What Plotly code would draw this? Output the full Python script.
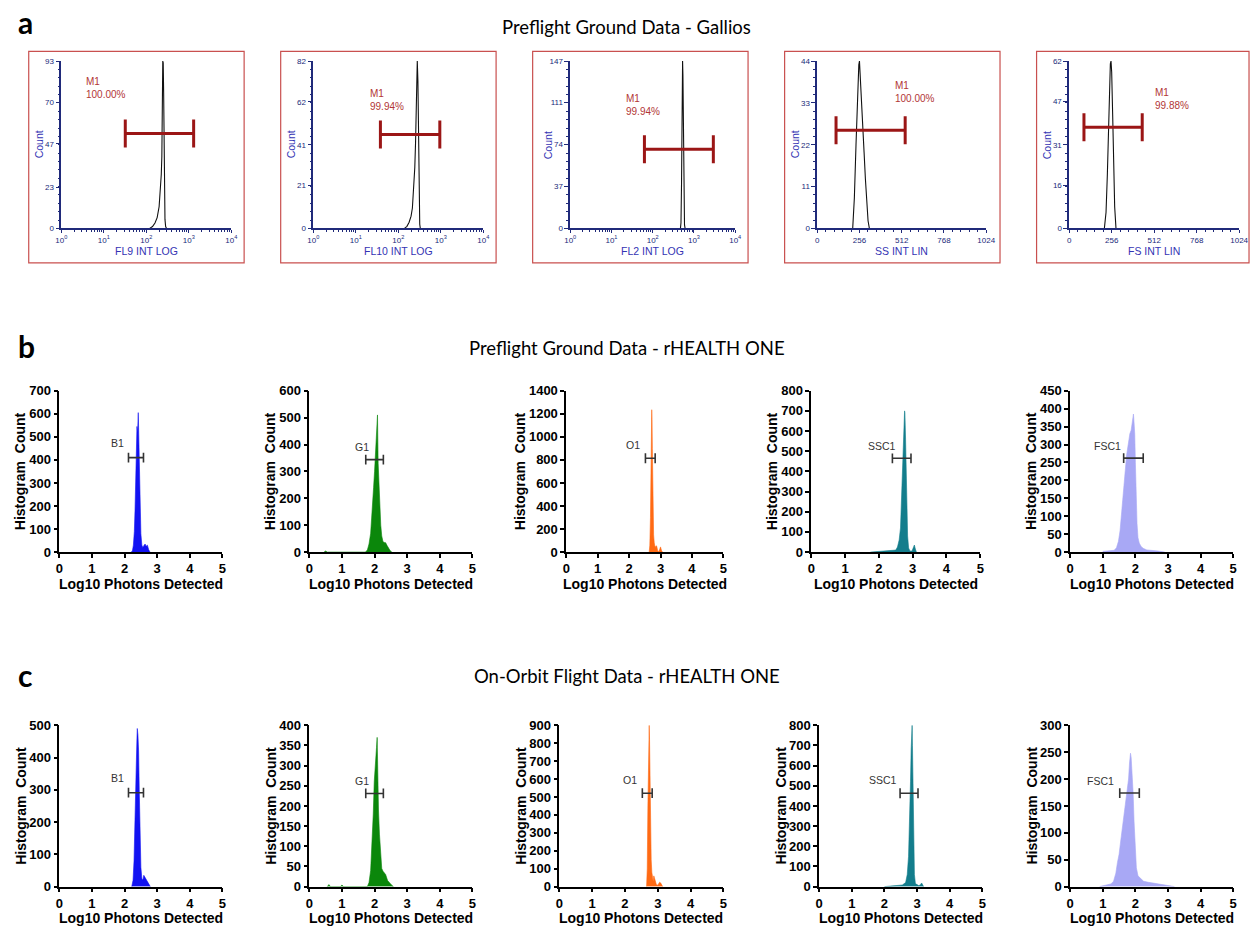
import math
import plotly.graph_objects as go

W, H = 1260, 933

# ================= DATA =================
# ---- Panel a : Gallios (black line histograms) ----
a_xtitles = ["FL9 INT LOG", "FL10 INT LOG", "FL2 INT LOG", "SS INT LIN", "FS INT LIN"]
a_is_log = [True, True, True, False, False]
a_ymax = [93, 82, 147, 44, 62]
a_yticks = [[0, 23, 47, 70, 93], [0, 21, 41, 62, 82], [0, 37, 74, 111, 147],
            [0, 11, 22, 33, 44], [0, 16, 31, 47, 62]]
log_tickvals = [1, 10, 100, 1000, 10000]
log_ticktext = ["10<sup>0</sup>", "10<sup>1</sup>", "10<sup>2</sup>", "10<sup>3</sup>", "10<sup>4</sup>"]
lin_tickvals = [0, 256, 512, 768, 1024]

a1_x = [120, 140, 160, 180, 200, 215, 225, 232, 238, 244, 250, 256, 262, 268, 275, 285, 300]
a1_y = [0, 1, 3, 6, 12, 22, 30, 40, 70, 93, 92, 75, 45, 20, 5, 1, 0]
a2_x = [140, 160, 180, 200, 215, 230, 245, 255, 265, 272, 280, 290, 300, 310, 320, 330]
a2_y = [0, 1, 3, 6, 10, 18, 30, 42, 60, 75, 82, 72, 45, 10, 2, 0]
a3_x = [470, 485, 500, 510, 520, 530, 540, 550, 560, 575, 590, 610]
a3_y = [0, 5, 40, 110, 140, 147, 135, 100, 60, 15, 3, 0]
a4_x = [215, 225, 235, 242, 248, 252, 256, 260, 268, 276, 284, 292, 300, 308, 316]
a4_y = [0, 8, 22, 32, 40, 43, 44, 41, 35, 28, 20, 13, 7, 2, 0]
a5_x = [212, 222, 230, 238, 244, 248, 252, 256, 262, 268, 274, 282]
a5_y = [0, 6, 20, 40, 55, 61, 62, 58, 42, 22, 8, 0]
a_hist_x = [a1_x, a2_x, a3_x, a4_x, a5_x]
a_hist_y = [a1_y, a2_y, a3_y, a4_y, a5_y]

a_gate_lo = [32, 38, 63, 114, 89]
a_gate_hi = [1300, 950, 2950, 533, 440]
a_gate_y = [52.8, 46, 69.6, 25.8, 37.5]
a_gate_pct = ["100.00%", "99.94%", "99.94%", "100.00%", "99.88%"]
a_label_x = [3.4, 19, 20, 460, 505]
a_label_y = [86, 70, 121, 39.5, 53]

# ---- Panels b / c : rHEALTH ONE (filled histograms, x = log10 photons) ----
gate_names = ["B1", "G1", "O1", "SSC1", "FSC1"]
channel_colors = ["#1212f2", "#0b870b", "#ff6a14", "#137d8c", "#a8a8f5"]

b_ymax = [700, 600, 1400, 800, 450]
b_dtick = [100, 100, 200, 100, 50]
c_ymax = [500, 400, 900, 800, 300]
c_dtick = [100, 50, 100, 100, 50]

b1_x = [2.20, 2.24, 2.27, 2.30, 2.32, 2.34, 2.36, 2.38, 2.40, 2.42, 2.43, 2.45, 2.47, 2.50, 2.53, 2.56, 2.60, 2.63, 2.66, 2.70, 2.74, 2.78]
b1_y = [0, 5, 30, 90, 180, 300, 450, 545, 520, 605, 540, 380, 200, 80, 30, 20, 30, 35, 25, 30, 10, 0]
b2_x = [0.45, 0.5, 0.55, 1.72, 1.78, 1.83, 1.88, 1.93, 1.97, 2.00, 2.03, 2.05, 2.07, 2.09, 2.11, 2.13, 2.16, 2.19, 2.22, 2.26, 2.30, 2.34, 2.38, 2.43, 2.48, 2.53]
b2_y = [0, 4, 0, 0, 8, 30, 70, 150, 240, 300, 370, 410, 440, 510, 330, 260, 170, 100, 60, 38, 36, 35, 25, 12, 5, 0]
b3_x = [2.64, 2.66, 2.68, 2.70, 2.71, 2.72, 2.73, 2.74, 2.75, 2.76, 2.78, 2.80, 2.83, 2.86, 2.88, 2.91, 2.94, 2.97, 3.00, 3.03, 3.06]
b3_y = [0, 60, 300, 800, 1100, 1235, 1150, 900, 600, 350, 150, 80, 40, 55, 50, 10, 5, 20, 45, 15, 0]
b4_x = [1.75, 2.0, 2.2, 2.40, 2.50, 2.55, 2.60, 2.64, 2.67, 2.70, 2.72, 2.74, 2.76, 2.77, 2.79, 2.81, 2.83, 2.85, 2.88, 2.92, 2.98, 3.02, 3.05, 3.08, 3.11]
b4_y = [0, 3, 4, 6, 10, 25, 60, 120, 250, 400, 520, 640, 700, 690, 560, 380, 200, 80, 20, 5, 5, 20, 35, 15, 0]
b5_x = [1.0, 1.2, 1.35, 1.42, 1.48, 1.53, 1.58, 1.63, 1.68, 1.73, 1.78, 1.83, 1.87, 1.91, 1.94, 1.96, 1.98, 2.00, 2.02, 2.05, 2.08, 2.12, 2.18, 2.25, 2.35, 2.5, 2.7, 2.9]
b5_y = [2, 3, 5, 12, 30, 60, 110, 170, 230, 270, 300, 330, 340, 360, 385, 360, 330, 250, 150, 80, 40, 25, 15, 10, 6, 5, 3, 0]

c1_x = [2.22, 2.26, 2.29, 2.32, 2.34, 2.36, 2.38, 2.39, 2.41, 2.43, 2.45, 2.47, 2.50, 2.53, 2.56, 2.59, 2.62, 2.65, 2.68, 2.72, 2.76, 2.79]
c1_y = [0, 20, 80, 180, 280, 380, 460, 490, 470, 420, 300, 160, 60, 25, 20, 35, 30, 22, 18, 12, 5, 0]
c2_x = [0.55, 0.6, 0.65, 0.95, 1.0, 1.05, 1.78, 1.83, 1.88, 1.92, 1.96, 1.99, 2.02, 2.04, 2.06, 2.08, 2.10, 2.12, 2.15, 2.18, 2.22, 2.26, 2.30, 2.34, 2.40, 2.46, 2.52, 2.58]
c2_y = [0, 5, 0, 0, 4, 0, 0, 10, 40, 100, 180, 260, 310, 340, 345, 370, 260, 190, 130, 80, 45, 38, 35, 30, 15, 8, 4, 0]
c3_x = [2.66, 2.68, 2.70, 2.72, 2.73, 2.74, 2.75, 2.76, 2.77, 2.78, 2.80, 2.82, 2.84, 2.86, 2.88, 2.90, 2.93, 2.96, 3.00, 3.03, 3.06, 3.09, 3.12, 3.15]
c3_y = [0, 100, 450, 800, 880, 900, 820, 650, 450, 300, 150, 80, 40, 30, 60, 45, 15, 10, 8, 15, 25, 20, 5, 0]
c4_x = [2.0, 2.2, 2.4, 2.55, 2.65, 2.70, 2.74, 2.77, 2.80, 2.82, 2.84, 2.85, 2.86, 2.88, 2.90, 2.92, 2.95, 3.0, 3.05, 3.10, 3.14, 3.17, 3.20]
c4_y = [0, 3, 5, 8, 20, 60, 150, 300, 520, 680, 790, 800, 700, 450, 200, 60, 15, 8, 5, 8, 18, 10, 0]
c5_x = [0.9, 1.1, 1.25, 1.33, 1.40, 1.45, 1.50, 1.55, 1.60, 1.65, 1.70, 1.75, 1.79, 1.82, 1.85, 1.87, 1.90, 1.93, 1.96, 1.99, 2.03, 2.08, 2.15, 2.25, 2.40, 2.6, 2.8, 3.0, 3.2]
c5_y = [0, 3, 5, 10, 25, 45, 60, 85, 110, 140, 160, 185, 200, 230, 248, 240, 215, 175, 120, 70, 35, 20, 15, 10, 8, 6, 5, 3, 0]

b_hist_x = [b1_x, b2_x, b3_x, b4_x, b5_x]
b_hist_y = [b1_y, b2_y, b3_y, b4_y, b5_y]
c_hist_x = [c1_x, c2_x, c3_x, c4_x, c5_x]
c_hist_y = [c1_y, c2_y, c3_y, c4_y, c5_y]

b_gate_lo = [2.12, 1.73, 2.52, 2.40, 1.64]
b_gate_hi = [2.58, 2.27, 2.83, 2.95, 2.24]
b_gate_y = [410, 344, 814, 465, 262]
b_label_x = [1.79, 1.61, 2.14, 2.10, 1.15]
b_label_y = [474, 391, 927, 528, 295]

c_gate_lo = [2.12, 1.73, 2.53, 2.48, 1.52]
c_gate_hi = [2.58, 2.27, 2.83, 3.03, 2.12]
c_gate_y = [291, 231, 521, 463, 174]
c_label_x = [1.79, 1.61, 2.14, 1.97, 0.94]
c_label_y = [337, 263, 593, 527, 196]

# ================= LAYOUT (pixel geometry) =================
def fx(p):
    return p / W

def fy(p):
    return 1 - p / H

NAVY = "#202a7a"
BLUE_T = "#3434b4"
FRAME = "#c9504f"
GATE_RED = "#9b1616"
LABEL_RED = "#b23636"

fig = go.Figure()
layout = dict(width=W, height=H, margin=dict(l=0, r=0, t=0, b=0),
              paper_bgcolor="white", plot_bgcolor="rgba(0,0,0,0)", showlegend=False)
annotations = []
shapes = []

def names(i):
    xs = "x" if i == 1 else f"x{i}"
    ys = "y" if i == 1 else f"y{i}"
    return xs, ys, "xaxis" + ("" if i == 1 else str(i)), "yaxis" + ("" if i == 1 else str(i))

# ---- Panel a ----
a_frame_left = [23, 278, 533, 788, 1043]
a_plot_left = [56, 311, 571, 821, 1076]
a_plot_right = [228, 483, 738, 992, 1248]
a_top, a_bot = 55, 225

idx = 0
for k in range(5):
    idx += 1
    xs, ys, xa, ya = names(idx)
    L, R = a_plot_left[k], a_plot_right[k]
    shapes.append(dict(type="rect", xref="paper", yref="paper",
                       x0=fx(a_frame_left[k]), x1=fx(min(a_frame_left[k] + 218, 1258)),
                       y0=fy(260), y1=fy(45), line=dict(color=FRAME, width=1.2)))
    common = dict(showgrid=False, zeroline=False, showline=True, linecolor=NAVY, linewidth=1.5,
                  ticks="outside", tickcolor=NAVY, tickwidth=1,
                  tickfont=dict(size=8, color=NAVY, family="Liberation Sans"))
    if a_is_log[k]:
        minor_vals = [m * 10 ** e for e in range(4) for m in range(2, 10)]
        xaxis = dict(type="log", range=[0, 4], tickvals=log_tickvals, ticktext=log_ticktext,
                     ticklen=3, minor=dict(tickvals=minor_vals, ticks="outside", ticklen=2, tickcolor=NAVY),
                     **common)
    else:
        xaxis = dict(range=[0, 1024], tickvals=lin_tickvals, ticklen=3,
                     minor=dict(dtick=51.2, tick0=0, ticks="outside", ticklen=2, tickcolor=NAVY),
                     **common)
    xaxis.update(domain=[fx(L), fx(R)], anchor=ys)
    yaxis = dict(range=[0, a_ymax[k]], tickvals=a_yticks[k], ticklen=4,
                 minor=dict(dtick=a_ymax[k] / 20, tick0=0, ticks="outside", ticklen=2, tickcolor=NAVY),
                 domain=[fy(a_bot), fy(a_top)], anchor=xs, **common)
    layout[xa] = xaxis
    layout[ya] = yaxis

    fig.add_trace(go.Scatter(x=a_hist_x[k], y=a_hist_y[k], xaxis=xs, yaxis=ys, mode="lines",
                             line=dict(color="#111111", width=1.1), hoverinfo="skip"))
    fig.add_trace(go.Scatter(x=[a_gate_lo[k], a_gate_hi[k]], y=[a_gate_y[k], a_gate_y[k]],
                             xaxis=xs, yaxis=ys, mode="lines+markers",
                             line=dict(color=GATE_RED, width=3),
                             marker=dict(symbol="line-ns", size=20, line=dict(width=3, color=GATE_RED)),
                             hoverinfo="skip"))
    lx = math.log10(a_label_x[k]) if a_is_log[k] else a_label_x[k]
    annotations.append(dict(x=lx, y=a_label_y[k], xref=xs, yref=ys, xanchor="left", yanchor="top",
                            align="left", showarrow=False,
                            text="M1<br>" + a_gate_pct[k],
                            font=dict(size=10, color=LABEL_RED, family="Liberation Sans")))
    annotations.append(dict(x=fx((L + R) / 2), y=fy(248), xref="paper", yref="paper",
                            xanchor="center", yanchor="middle", showarrow=False, text=a_xtitles[k],
                            font=dict(size=10.5, color=BLUE_T, family="Liberation Sans")))
    annotations.append(dict(x=fx(L - 23), y=fy((a_top + a_bot) / 2), xref="paper", yref="paper",
                            xanchor="center", yanchor="middle", showarrow=False, text="Count",
                            textangle=-90, font=dict(size=10.5, color=BLUE_T, family="Liberation Sans")))

# ---- Panels b and c ----
b_left = [54, 307, 567, 815, 1077]
b_right = [219, 472, 726, 986, 1242]
c_left = [54, 307, 560, 823, 1077]
c_right = [219, 472, 726, 988, 1242]
rows = [
    dict(left=b_left, right=b_right, top=390, bot=554, ymax=b_ymax, dtick=b_dtick,
         hx=b_hist_x, hy=b_hist_y, glo=b_gate_lo, ghi=b_gate_hi, gy=b_gate_y, lx=b_label_x, ly=b_label_y),
    dict(left=c_left, right=c_right, top=730, bot=894, ymax=c_ymax, dtick=c_dtick,
         hx=c_hist_x, hy=c_hist_y, glo=c_gate_lo, ghi=c_gate_hi, gy=c_gate_y, lx=c_label_x, ly=c_label_y),
]
BOLD = dict(family="Liberation Sans", color="black", weight="bold")
for row in rows:
    for k in range(5):
        idx += 1
        xs, ys, xa, ya = names(idx)
        L, R = row["left"][k], row["right"][k]
        common = dict(showgrid=False, zeroline=False, showline=True, linecolor="black", linewidth=1.6,
                      ticks="outside", tickcolor="black", tickwidth=1.5, ticklen=4,
                      tickfont=dict(size=13, **BOLD))
        layout[xa] = dict(domain=[fx(L), fx(R)], anchor=ys, range=[0, 5], tick0=0, dtick=1, **common)
        layout[ya] = dict(domain=[fy(row["bot"]), fy(row["top"])], anchor=xs,
                          range=[0, row["ymax"][k]], tick0=0, dtick=row["dtick"][k], **common)
        col = channel_colors[k]
        fig.add_trace(go.Scatter(x=row["hx"][k], y=row["hy"][k], xaxis=xs, yaxis=ys, mode="lines",
                                 fill="tozeroy", fillcolor=col, line=dict(color=col, width=0.6),
                                 hoverinfo="skip"))
        fig.add_trace(go.Scatter(x=[row["glo"][k], row["ghi"][k]], y=[row["gy"][k], row["gy"][k]],
                                 xaxis=xs, yaxis=ys, mode="lines+markers",
                                 line=dict(color="#333333", width=1.6),
                                 marker=dict(symbol="line-ns", size=7, line=dict(width=1.6, color="#333333")),
                                 hoverinfo="skip"))
        annotations.append(dict(x=row["lx"][k], y=row["ly"][k], xref=xs, yref=ys, showarrow=False,
                                text=gate_names[k], xanchor="center", yanchor="middle",
                                font=dict(size=10.5, color="#333333", family="Liberation Sans")))
        ndig = len(str(row["ymax"][k]))
        annotations.append(dict(x=fx(L - (18 + 7 * ndig)), y=fy((row["top"] + row["bot"]) / 2),
                                xref="paper", yref="paper", showarrow=False, textangle=-90,
                                xanchor="center", yanchor="middle", text="Histogram\u00a0 Count",
                                font=dict(size=14, **BOLD)))
        annotations.append(dict(x=fx((L + R) / 2), y=fy(row["bot"] + 32), xref="paper", yref="paper",
                                showarrow=False, xanchor="center", yanchor="middle",
                                text="Log10 Photons Detected", font=dict(size=14, **BOLD)))

# ---- Titles and panel letters ----
titles = ["Preflight Ground Data - Gallios", "Preflight Ground Data - rHEALTH ONE",
          "On-Orbit Flight Data - rHEALTH ONE"]
title_y = [20, 347, 680]
letters = ["a", "b", "c"]
letter_y = [15, 345, 679]
for t, ty in zip(titles, title_y):
    annotations.append(dict(x=fx(628), y=fy(ty), xref="paper", yref="paper", showarrow=False,
                            xanchor="center", yanchor="middle", text=t,
                            font=dict(size=18.5, color="black", family="Lato")))
for l, ly in zip(letters, letter_y):
    annotations.append(dict(x=fx(10), y=fy(ly), xref="paper", yref="paper", showarrow=False,
                            xanchor="left", yanchor="middle", text=l,
                            font=dict(size=30, color="black", family="Lato", weight="bold")))

layout["annotations"] = annotations
layout["shapes"] = shapes
fig.update_layout(**layout)
fig.write_html("out.html")
